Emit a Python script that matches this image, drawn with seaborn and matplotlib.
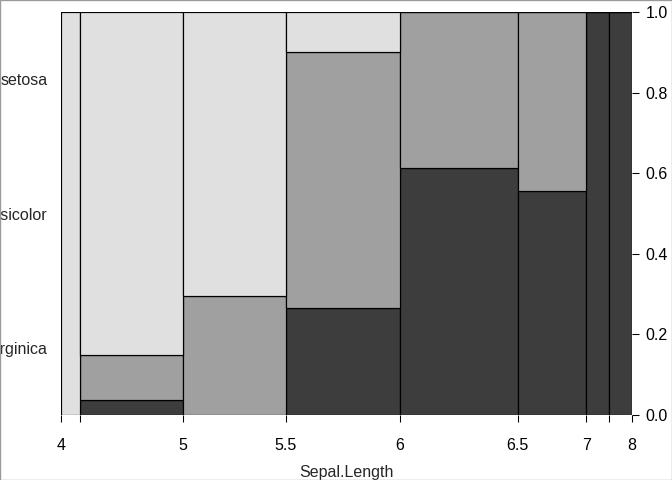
import numpy as np
import pandas as pd
import matplotlib
matplotlib.use("Agg")
import matplotlib.pyplot as plt
from matplotlib.patches import Rectangle
import seaborn as sns

# iris Sepal.Length binned at 0.5 steps, counts per species
breaks = [4, 4.5, 5, 5.5, 6, 6.5, 7, 7.5, 8]
break_labels = ["4", "", "5", "5.5", "6", "6.5", "7", "", "8"]
species = ["setosa", "versicolor", "virginica"]
setosa = [5, 23, 19, 3, 0, 0, 0, 0]
versicolor = [0, 3, 8, 19, 12, 8, 0, 0]
virginica = [0, 1, 0, 8, 19, 10, 6, 6]
colors = {"setosa": "#E0E0E0", "versicolor": "#A0A0A0", "virginica": "#3D3D3D"}

counts = {"setosa": setosa, "versicolor": versicolor, "virginica": virginica}
totals = np.array(setosa) + np.array(versicolor) + np.array(virginica)
edges = np.concatenate([[0], np.cumsum(totals)]) / totals.sum()
mids = (edges[:-1] + edges[1:]) / 2

rows = []
for sp in species:
    for i, c in enumerate(counts[sp]):
        rows.append({"pos": mids[i], "Species": sp, "n": c})
df = pd.DataFrame(rows)

sns.set_style("white")
plt.rcParams["font.family"] = ["Liberation Sans", "DejaVu Sans"]
plt.rcParams["font.size"] = 12

fig = plt.figure(figsize=(7, 5), dpi=96)
ax = fig.add_axes([61 / 672, 1 - 415 / 480, (632 - 61) / 672, (415 - 12) / 480])

# first hue level ends up on top of the stack
sns.histplot(data=df, x="pos", weights="n", hue="Species",
             hue_order=species, bins=list(edges), multiple="fill",
             palette=colors, alpha=1, edgecolor="black", linewidth=0.9,
             legend=False, ax=ax)

ax.set_xlim(0, 1)
ax.set_ylim(0, 1)
for s in ax.spines.values():
    s.set_visible(False)

ax.set_xticks(edges)
ax.set_xticklabels(break_labels)
ax.tick_params(axis="x", bottom=True, length=5.25, width=0.8, pad=12,
               colors="black", labelsize=12)
ax.set_xlabel("Sepal.Length", fontsize=12, labelpad=9)

# species labels at the marginal midpoints
sp_tot = np.array([sum(counts[sp]) for sp in species[::-1]])
cum = np.concatenate([[0], np.cumsum(sp_tot)]) / sp_tot.sum()
ax.set_yticks((cum[:-1] + cum[1:]) / 2)
ax.set_yticklabels(species[::-1])
ax.tick_params(axis="y", left=False, length=0, pad=10, labelsize=12)
ax.set_ylabel("")

ax2 = ax.twinx()
ax2.set_ylim(0, 1)
ax2.set_yticks(np.arange(0, 1.01, 0.2))
ax2.set_yticklabels([f"{v:.1f}" for v in np.arange(0, 1.01, 0.2)])
ax2.tick_params(axis="y", right=True, length=5, width=0.8, pad=5,
                colors="black", labelsize=12)
for s in ax2.spines.values():
    s.set_visible(False)

fig.patches.append(Rectangle((0, 0), 1, 1, transform=fig.transFigure,
                             fill=False, edgecolor="#9a9a9a", linewidth=1))

fig.savefig("out.png", dpi=96)
